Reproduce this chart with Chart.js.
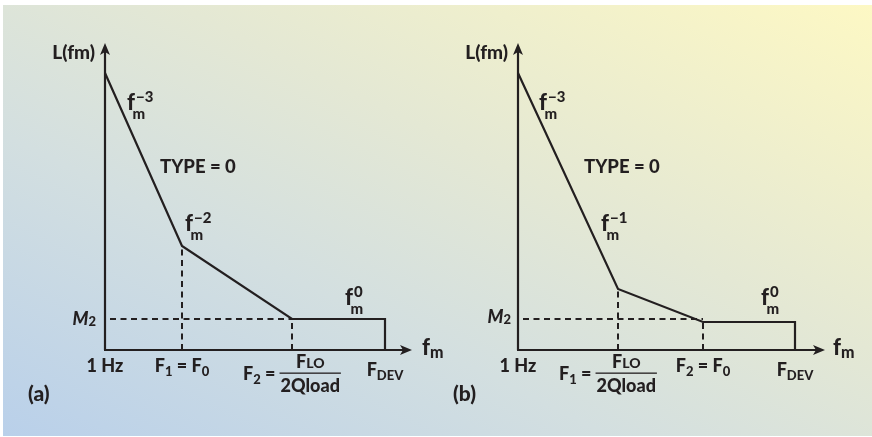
<!DOCTYPE html>
<html>
<head>
<meta charset="utf-8">
<script src="https://cdn.jsdelivr.net/npm/chart.js@4.4.0/dist/chart.umd.min.js"></script>
<style>
  html, body { margin: 0; padding: 0; background: #fff; }
  #frame { position: relative; width: 872px; height: 437px; background: #fff; overflow: hidden; }
  #panel {
    position: absolute; left: 3px; top: 5px; right: 0; bottom: 1px;
    background: linear-gradient(to top right, #b9d0ea 0%, #d3dfe0 35%, #e4e8d4 60%, #fdf8c4 100%);
  }
  canvas { position: absolute; top: 0; }
</style>
</head>
<body>
<div id="frame">
  <div id="panel"></div>
  <canvas id="chartA" width="470" height="437" style="left:0"></canvas>
  <canvas id="chartB" width="436" height="437" style="left:436px"></canvas>
</div>
<script>
// Phase-noise asymptote plots, TYPE = 0.  Both axes are in plot units
// measured from the 1 Hz origin (1 unit = 1 px on screen).

// (a) F1 = F0 sits below F2: slopes -3, -2, then flat to FDEV
const freqA = [0, 77, 187, 280, 280];
const levelA = [277, 104, 31, 31, 0];
const m2LevelA = 31;
const tickFreqA = [0, 77, 187, 280];
const slopesA = ['−3', '−2', '0'];

// (b) F1 = FLO/2Qload sits below F2 = F0: slopes -3, -1, then flat
const freqB = [0, 100, 185, 277, 277];
const levelB = [277, 61, 28, 28, 0];
const m2LevelB = 31;
const tickFreqB = [0, 100, 185, 277];
const slopesB = ['−3', '−1', '0'];

// tick label text, as runs of [text, kind]
const LBL_HZ = [['1 Hz']];
const LBL_F1F0 = [['F'], ['1', 'sub'], [' = F'], ['0', 'sub']];
const LBL_F2F0 = [['F'], ['2', 'sub'], [' = F'], ['0', 'sub']];
const LBL_FDEV = [['F'], ['DEV', 'sub']];
const FRAC_NUM = [['F'], ['LO', 'sc']];
const FRAC_DEN = [['2Qload']];
const tickLabelsA = [LBL_HZ, LBL_F1F0, { pre: [['F'], ['2', 'sub'], [' =']], num: FRAC_NUM, den: FRAC_DEN }, LBL_FDEV];
const tickLabelsB = [LBL_HZ, { pre: [['F'], ['1', 'sub'], [' =']], num: FRAC_NUM, den: FRAC_DEN }, LBL_F2F0, LBL_FDEV];

const INK = '#231f20';
const FONT = 'Lato, "Open Sans", sans-serif';
const W = '900 ';
const AXIS_END = 307;

function runFont(kind, size) {
    let s = size;
    if (kind === 'sub') s = size * 0.72;
    else if (kind === 'sc') s = size * 0.78;
    else if (kind === 'sup') s = size * 0.68;
    return W + s.toFixed(1) + 'px ' + FONT;
}
function runShift(kind, size) {
    if (kind === 'sub') return size * 0.2;
    if (kind === 'sup') return -size * 0.45;
    return 0;
}
function runsWidth(ctx, runs, size) {
    let w = 0;
    for (const [t, k] of runs) { ctx.font = runFont(k, size); w += ctx.measureText(t).width; }
    return w;
}
function drawRuns(ctx, runs, x, y, size) {
    for (const [t, k] of runs) {
        ctx.font = runFont(k, size);
        ctx.fillText(t, x, y + runShift(k, size));
        x += ctx.measureText(t).width;
    }
}

// tick label centred under a frequency; fractions get a bar and two rows
function drawTickLabel(ctx, lbl, cx, base, size) {
    if (Array.isArray(lbl)) {
        const w = runsWidth(ctx, lbl, size);
        const extra = lbl.some(r => r[1] === 'sub' && r[0].length > 1) ? 4 : 0;
        drawRuns(ctx, lbl, cx - w / 2, base + extra, size);
        return;
    }
    const gap = 4;
    const wPre = runsWidth(ctx, lbl.pre, size);
    const wNum = runsWidth(ctx, lbl.num, size);
    const wDen = runsWidth(ctx, lbl.den, size);
    const wBar = Math.max(wNum, wDen) + 2;
    const x0 = cx - (wPre + gap + wBar) / 2;
    drawRuns(ctx, lbl.pre, x0, base + 8, size);
    const bx = x0 + wPre + gap;
    drawRuns(ctx, lbl.num, bx + (wBar - wNum) / 2, base - 4, size);
    drawRuns(ctx, lbl.den, bx + (wBar - wDen) / 2, base + 20, size);
    ctx.fillRect(bx, base + 0.5, wBar, 1.3);
}

// f_m with a slope exponent stacked on the right
function drawSlope(ctx, exp, x, y) {
    ctx.font = W + '22px ' + FONT;
    const fw = ctx.measureText('f').width;
    ctx.fillText('f', x, y);
    ctx.font = W + '15px ' + FONT;
    ctx.fillText(exp, x + fw + 1, y - 8);
    ctx.font = W + '15px ' + FONT;
    ctx.fillText('m', x + 5.5, y + 9);
}

function arrowHead(ctx, tipX, tipY, dir) {
    // dir: 'up' or 'right'
    ctx.beginPath();
    if (dir === 'up') {
        ctx.moveTo(tipX, tipY);
        ctx.lineTo(tipX + 5, tipY + 12);
        ctx.lineTo(tipX, tipY + 9);
        ctx.lineTo(tipX - 5, tipY + 12);
    } else {
        ctx.moveTo(tipX, tipY);
        ctx.lineTo(tipX - 12, tipY - 5);
        ctx.lineTo(tipX - 9, tipY);
        ctx.lineTo(tipX - 12, tipY + 5);
    }
    ctx.closePath();
    ctx.fill();
}

const axesPlugin = {
    id: 'axes',
    beforeDatasetsDraw(chart) {
        const { ctx, scales: { x, y } } = chart;
        const ox = x.getPixelForValue(0), oy = y.getPixelForValue(0);
        const top = y.getPixelForValue(AXIS_END), right = x.getPixelForValue(AXIS_END);
        ctx.save();
        ctx.strokeStyle = INK;
        ctx.fillStyle = INK;
        ctx.lineWidth = 2.2;
        ctx.beginPath();
        ctx.moveTo(ox, oy);
        ctx.lineTo(ox, top + 8);
        ctx.moveTo(ox - 1, oy);
        ctx.lineTo(right - 8, oy);
        ctx.stroke();
        arrowHead(ctx, ox, top, 'up');
        arrowHead(ctx, right, oy, 'right');
        ctx.restore();
    }
};

const textPlugin = {
    id: 'texts',
    afterDraw(chart) {
        const o = chart.options.plugins.texts;
        const { ctx, scales: { x, y } } = chart;
        const px = v => x.getPixelForValue(v);
        const py = v => y.getPixelForValue(v);
        ctx.save();
        ctx.fillStyle = INK;
        ctx.textBaseline = 'alphabetic';

        // y axis title
        ctx.font = W + '19px ' + FONT;
        ctx.textAlign = 'right';
        ctx.fillText('L(fm)', px(o.yTitle[0]), py(o.yTitle[1]));
        ctx.textAlign = 'left';

        // x axis title
        ctx.font = W + '22px ' + FONT;
        const fw = ctx.measureText('f').width;
        ctx.fillText('f', px(o.xTitle[0]), py(o.xTitle[1]));
        ctx.font = W + '16px ' + FONT;
        ctx.fillText('m', px(o.xTitle[0]) + fw, py(o.xTitle[1]) + 3);

        ctx.font = W + '18.5px ' + FONT;
        ctx.fillText('TYPE = 0', px(o.type[0]), py(o.type[1]));

        o.slopes.forEach((s, i) => drawSlope(ctx, s, px(o.slopePos[i][0]), py(o.slopePos[i][1])));

        // M2 level
        ctx.textAlign = 'right';
        ctx.font = W + '13px ' + FONT;
        const w2 = ctx.measureText('2').width;
        ctx.fillText('2', px(o.m2[0]), py(o.m2[1]) + 1);
        ctx.font = 'italic ' + W + '18px ' + FONT;
        ctx.fillText('M', px(o.m2[0]) - w2, py(o.m2[1]));
        ctx.textAlign = 'left';

        // tick labels
        o.ticks.forEach((lbl, i) => {
            drawTickLabel(ctx, lbl, px(o.tickFreq[i]) + (o.tickShift[i] || 0), py(o.tickBase), 18);
        });

        ctx.font = W + '21px ' + FONT;
        ctx.fillText(o.tag, px(o.tagPos[0]), py(o.tagPos[1]));
        ctx.restore();
    }
};

function guide(points) {
    return {
        data: points,
        showLine: true,
        borderColor: INK,
        borderWidth: 2,
        borderDash: [6, 4.5],
        pointRadius: 0,
        clip: false
    };
}

function makePanel(id, freq, level, m2, tickFreq, padLeft, texts) {
    const canvas = document.getElementById(id);
    const curve = freq.map((f, i) => ({ x: f, y: level[i] }));
    const datasets = [
        guide([{ x: 5, y: m2 }, { x: freq[2], y: m2 }]),
        guide([{ x: freq[1], y: 0 }, { x: freq[1], y: level[1] }]),
        guide([{ x: freq[2], y: 0 }, { x: freq[2], y: m2 }]),
        {
            data: curve,
            showLine: true,
            borderColor: INK,
            borderWidth: 2.2,
            borderJoinStyle: 'miter',
            pointRadius: 0,
            clip: false
        }
    ];
    return new Chart(canvas, {
        type: 'scatter',
        data: { datasets },
        options: {
            responsive: false,
            animation: false,
            events: [],
            layout: { padding: { left: padLeft, right: canvas.width - padLeft - 300, top: 50, bottom: 87 } },
            scales: {
                x: { type: 'linear', min: 0, max: 300, display: false },
                y: { type: 'linear', min: 0, max: 300, display: false }
            },
            plugins: {
                legend: { display: false },
                tooltip: { enabled: false },
                texts: Object.assign({ tickFreq }, texts)
            }
        },
        plugins: [axesPlugin, textPlugin]
    });
}

makePanel('chartA', freqA, levelA, m2LevelA, tickFreqA, 105, {
    yTitle: [-10, 291],
    xTitle: [317, -5],
    type: [55, 177],
    slopes: slopesA,
    slopePos: [[22, 240], [80, 119], [240, 45]],
    m2: [-9, 25],
    ticks: tickLabelsA,
    tickShift: [0, 0, 0, 0],
    tickBase: -22,
    tag: '(a)',
    tagPos: [-77, -51]
});

makePanel('chartB', freqB, levelB, m2LevelB, tickFreqB, 82, {
    yTitle: [-10, 291],
    xTitle: [315, -5],
    type: [66, 177],
    slopes: slopesB,
    slopePos: [[21, 240], [83, 119], [243, 45]],
    m2: [-7, 27],
    ticks: tickLabelsB,
    tickShift: [0, -10, 0, 0],
    tickBase: -22,
    tag: '(b)',
    tagPos: [-65, -51]
});
</script>
</body>
</html>
